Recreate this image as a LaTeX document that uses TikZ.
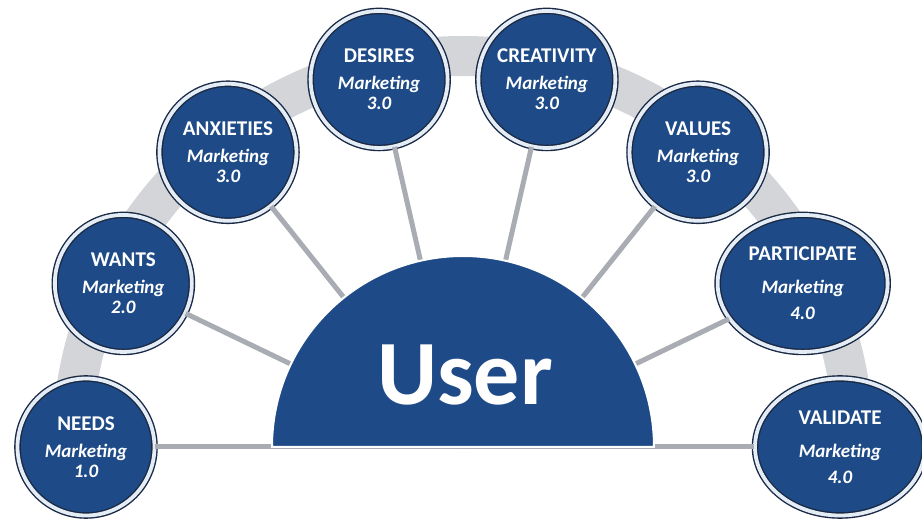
\documentclass[tikz,border=0pt]{standalone}
\usepackage{fontspec}
\setmainfont{Carlito}
\usepackage{tikz}
\usetikzlibrary{shapes.geometric}

\definecolor{navy}{HTML}{1E4B87}
\definecolor{ringlight}{HTML}{E4ECF6}
\definecolor{ringdark}{HTML}{1A2944}
\definecolor{bandgray}{HTML}{D3D5D9}
\definecolor{spokegray}{HTML}{A9ACB2}

\tikzset{
	bubble/.style={circle, minimum size=137pt, inner sep=0pt, fill=navy, draw=ringdark, line width=1.4pt, double=ringlight, double distance=3.8pt, text=white, align=center, font=\fontsize{19}{20}\selectfont\bfseries\itshape},
	wide bubble/.style={bubble, ellipse, minimum width=170pt, minimum height=137pt, font=\fontsize{19}{26}\selectfont\bfseries\itshape},
	spoke/.style={draw=spokegray, line width=5pt},
}
\newcommand{\bubbletext}[2]{{\fontsize{21}{24}\selectfont\upshape #1}\\[7pt]Marketing\\#2}

\begin{document}
\begin{tikzpicture}[x=1pt, y=1pt]
			\useasboundingbox (0,0) rectangle (922,519);
			\coordinate (hub) at (463,72);
			% grey band behind the bubbles
			\draw[bandgray, line width=40pt] ([shift={(0:391)}]hub) arc[start angle=0, end angle=180, radius=391];
			\foreach \name/\idx/\title/\ver in {needs/0/NEEDS/1.0, wants/1/WANTS/2.0, anxieties/2/ANXIETIES/3.0, desires/3/DESIRES/3.0, creativity/4/CREATIVITY/3.0, values/5/VALUES/3.0}
				\node[bubble] (\name) at ([shift={(180-\idx*180/7:377)}]hub) {\bubbletext{\title}{\ver}};
			\node[wide bubble] (participate) at ([shift={(180/7:377)}]hub) {\bubbletext{PARTICIPATE}{4.0}};
			\node[wide bubble] (validate) at ([shift={(0:377)}]hub) {\bubbletext{VALIDATE}{4.0}};
			\foreach \n in {needs, wants, anxieties, desires, creativity, values, participate, validate}
				\draw[spoke] (hub) -- (\n);
			% half disc in the middle
			\draw[fill=navy, draw=white, line width=2pt] ([shift={(0:191)}]hub) arc[start angle=0, end angle=180, radius=191] -- cycle;
			\node (user) at (465,114) [anchor=base, text=white, font=\fontsize{92}{96}\selectfont\bfseries] {User};
		\end{tikzpicture}
\end{document}
